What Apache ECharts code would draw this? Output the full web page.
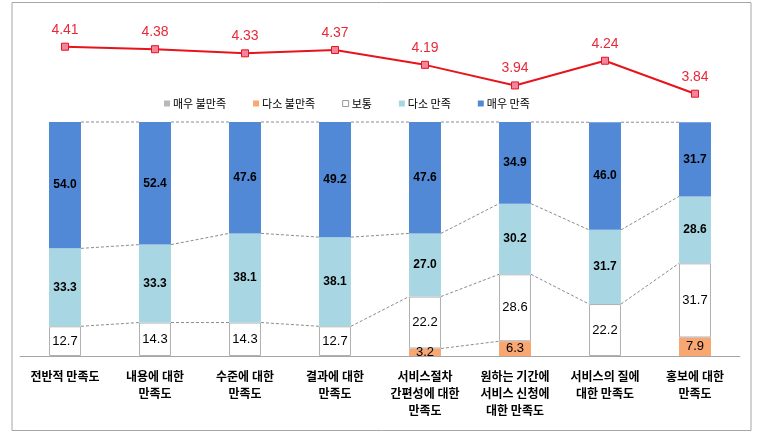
<!DOCTYPE html>
<html>
<head>
<meta charset="utf-8">
<script src="https://cdn.jsdelivr.net/npm/echarts@6/dist/echarts.min.js"></script>
<style>
html,body{margin:0;padding:0;background:#fff;}
#c{width:759px;height:434px;}
</style>
</head>
<body>
<div id="c"></div>
<script>
var categories = [
  '전반적 만족도',
  '내용에 대한\n만족도',
  '수준에 대한\n만족도',
  '결과에 대한\n만족도',
  '서비스절차\n간편성에 대한\n만족도',
  '원하는 기간에\n서비스 신청에\n대한 만족도',
  '서비스의 질에\n대한 만족도',
  '홍보에 대한\n만족도'
];
var seriesNames = ['매우 불만족', '다소 불만족', '보통', '다소 만족', '매우 만족'];
var veryDissatisfied = [0, 0, 0, 0, 0, 0, 0, 0];
var somewhatDissatisfied = [0, 0, 0, 0, 3.2, 6.3, 0, 7.9];
var neutral = [12.7, 14.3, 14.3, 12.7, 22.2, 28.6, 22.2, 31.7];
var somewhatSatisfied = [33.3, 33.3, 38.1, 38.1, 27.0, 30.2, 31.7, 28.6];
var verySatisfied = [54.0, 52.4, 47.6, 49.2, 47.6, 34.9, 46.0, 31.7];
var meanScore = [4.41, 4.38, 4.33, 4.37, 4.19, 3.94, 4.24, 3.84];

var stackData = [veryDissatisfied, somewhatDissatisfied, neutral, somewhatSatisfied, verySatisfied];
var colors = ['#b9b9b9', '#f8a672', '#ffffff', '#a8d7e3', '#5189d6'];
var BAR_RATIO = 0.355;

// cumulative levels per category
var cumLevels = categories.map(function (_, i) {
  var s = 0, arr = [];
  stackData.forEach(function (d) { s += d[i]; arr.push(s); });
  return arr;
});

var chart = echarts.init(document.getElementById('c'), null, {renderer: 'canvas'});

function fmtLabel(p) { return p.value ? p.value.toFixed(1) : ''; }

var barSeries = seriesNames.map(function (name, k) {
  var bold = (k >= 3);
  return {
    name: name,
    type: 'bar',
    stack: 'total',
    xAxisIndex: 0, yAxisIndex: 0,
    barWidth: (BAR_RATIO * 100) + '%',
    data: stackData[k],
    itemStyle: {
      color: colors[k],
      borderColor: k === 2 ? '#b0b0b0' : colors[k],
      borderWidth: k === 2 ? 1 : 0
    },
    label: {
      show: true,
      position: 'inside',
      formatter: fmtLabel,
      color: '#000',
      fontFamily: 'Liberation Sans, Arial, sans-serif',
      fontSize: bold ? 12 : 13,
      fontWeight: bold ? 'bold' : 'normal'
    },
    emphasis: {disabled: true},
    z: 3
  };
});

var connector = {
  type: 'custom',
  xAxisIndex: 0, yAxisIndex: 0,
  silent: true,
  data: categories.slice(0, categories.length - 1).map(function (_, i) { return i; }),
  renderItem: function (params, api) {
    var i = api.value(0);
    var half = api.size([1, 0])[0] * BAR_RATIO / 2;
    var children = [];
    for (var k = 0; k < stackData.length; k++) {
      if (stackData[k][i] === 0 || stackData[k][i + 1] === 0) continue;
      var a = cumLevels[i][k], b = cumLevels[i + 1][k];
      var p1 = api.coord([i, a]);
      var p2 = api.coord([i + 1, b]);
      children.push({
        type: 'line',
        shape: {x1: p1[0] + half, y1: p1[1], x2: p2[0] - half, y2: p2[1]},
        style: {stroke: '#8c8c8c', lineWidth: 1, lineDash: [3, 2]}
      });
    }
    return {type: 'group', children: children};
  },
  z: 2
};

var legendData = seriesNames.map(function (n, k) {
  return k === 2
    ? {name: n, itemStyle: {color: '#fff', borderColor: '#9a9a9a', borderWidth: 1}}
    : {name: n, itemStyle: {color: colors[k], borderWidth: 0}};
});

var option = {
  animation: false,
  backgroundColor: '#fff',
  graphic: [{
    type: 'rect',
    shape: {x: 12, y: 2.5, width: 739, height: 428},
    style: {fill: 'none', stroke: '#a6a6a6', lineWidth: 1},
    silent: true, z: 0
  }],
  legend: {
    data: legendData,
    top: 93,
    left: 159,
    itemWidth: 6,
    itemHeight: 6,
    itemGap: 27,
    icon: 'rect',
    selectedMode: false,
    textStyle: {fontSize: 11, color: '#000', fontFamily: 'Noto Sans CJK KR, sans-serif', padding: [0, 0, 0, -2]}
  },
  grid: [
    {left: 20, right: 19, top: 122, bottom: 78},
    {left: 20, right: 19, top: 14.6, bottom: 312.3}
  ],
  xAxis: [
    {
      type: 'category', gridIndex: 0, data: categories,
      axisLine: {lineStyle: {color: '#a6a6a6'}},
      axisTick: {show: false},
      axisLabel: {
        interval: 0, margin: 12, color: '#000', fontSize: 12, fontWeight: 'bold',
        lineHeight: 17, fontFamily: 'Noto Sans CJK KR, sans-serif', verticalAlign: 'top'
      }
    },
    {
      type: 'category', gridIndex: 1, data: categories,
      show: false
    }
  ],
  yAxis: [
    {type: 'value', gridIndex: 0, min: 0, max: 100, show: false, splitLine: {show: false}},
    {type: 'value', gridIndex: 1, min: 3.5, max: 4.8, show: false, splitLine: {show: false}}
  ],
  series: barSeries.concat([connector, {
    name: '평균',
    type: 'line',
    xAxisIndex: 1, yAxisIndex: 1,
    data: meanScore,
    symbol: 'rect',
    symbolSize: 7,
    lineStyle: {color: '#e8141c', width: 2},
    itemStyle: {color: '#f284a0', borderColor: '#e8141c', borderWidth: 1},
    label: {
      show: true, position: 'top', distance: 6,
      formatter: function (p) { return p.value.toFixed(2); },
      color: '#e8283a', fontSize: 14,
      fontFamily: 'Liberation Sans, Arial, sans-serif'
    },
    emphasis: {disabled: true},
    z: 5
  }])
};
chart.setOption(option);
</script>
</body>
</html>
